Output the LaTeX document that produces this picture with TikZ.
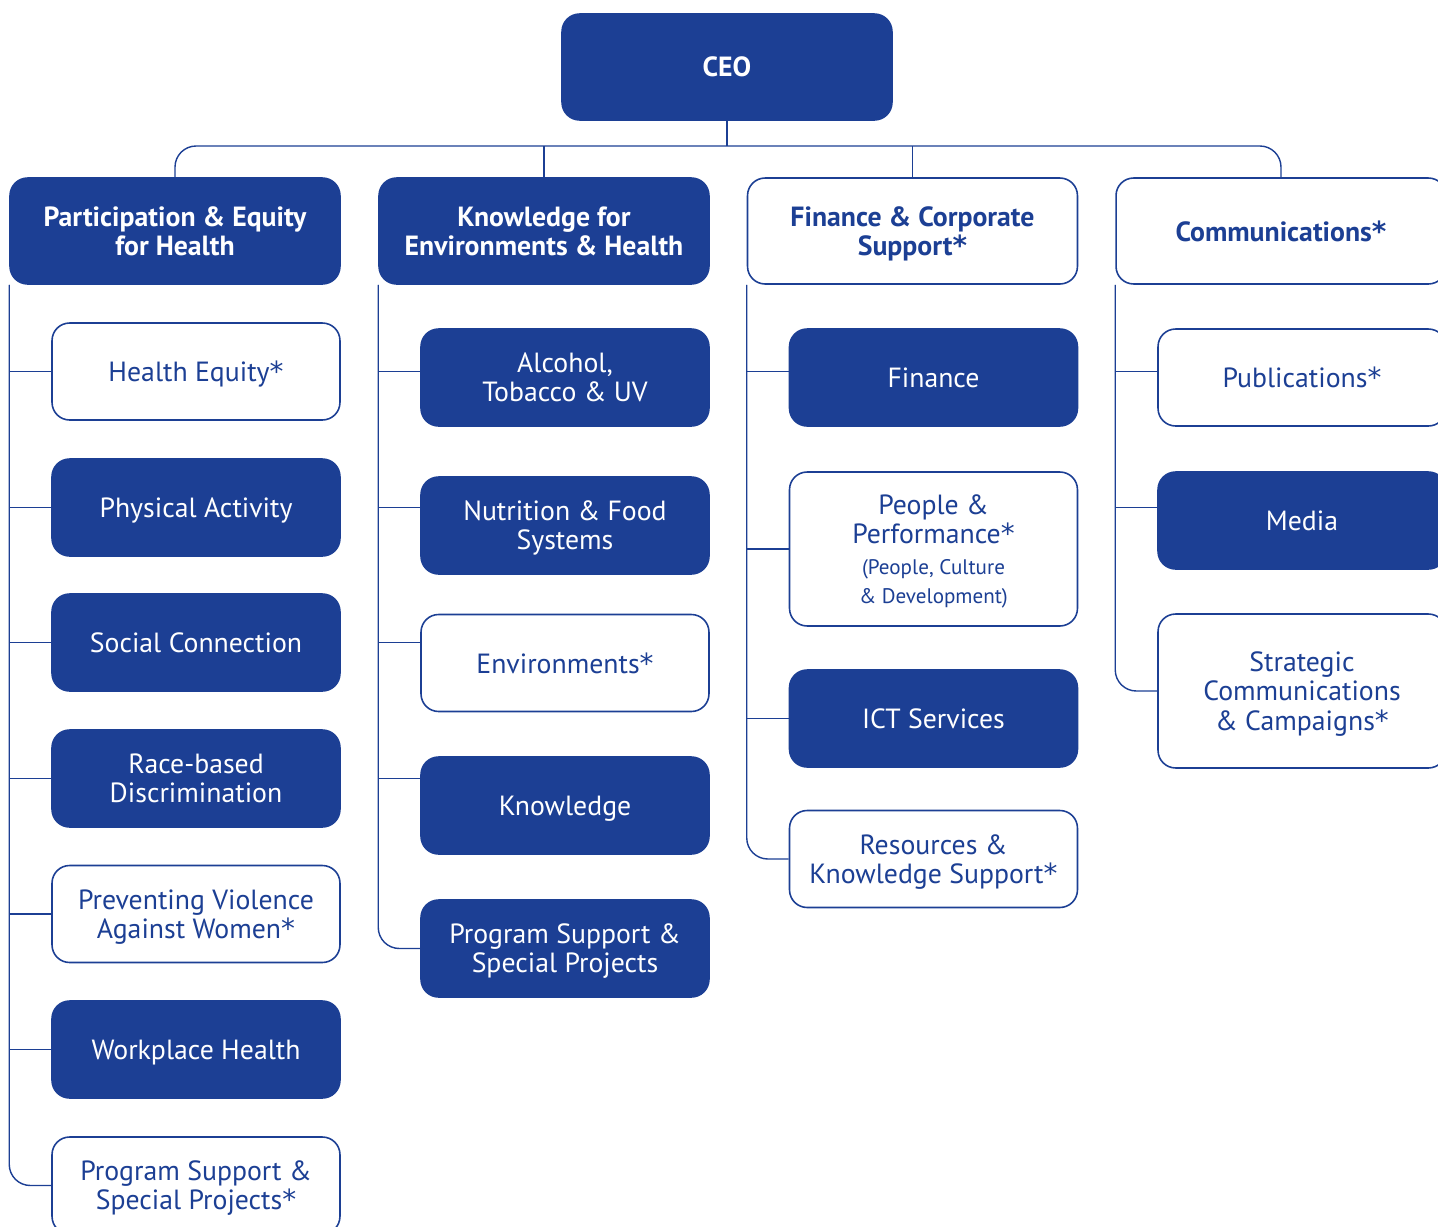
\documentclass[tikz,border=0pt]{standalone}
\usepackage{fontspec}
\setsansfont{PT Sans}
\newfontfamily\estrfont{DejaVu Sans}
\newcommand{\estr}{{\estrfont*}}
\usepackage{xcolor}
\usepackage{tikz}
\usetikzlibrary{positioning, calc}

\begin{document}
\begin{tikzpicture}[x=0.02cm, y=-0.02cm]
% --- CORES E ESTILOS ---
\definecolor{azul}{HTML}{1C3F94}
\tikzset{
  caixa/.style={rectangle, rounded corners=10pt, draw=azul, line width=0.9pt,
    minimum width=5.76cm, minimum height=1.94cm, align=center, inner sep=2pt,
    text depth=0pt, font=\sffamily\fontsize{15.8}{16.6}\selectfont},
  escura/.style={caixa, fill=azul, text=white},
  clara/.style={caixa, fill=white, text=azul},
  chefe/.style={minimum width=6.6cm, minimum height=2.12cm,
    font=\sffamily\bfseries\fontsize{15.8}{16.6}\selectfont},
  ligacao/.style={draw=azul, line width=0.8pt},
}
\newcommand{\menor}{\fontsize{12}{14}\selectfont}
\useasboundingbox (0,0) rectangle (1438,1227);

% LAYER 1: CEO e direcoes
\node[escura, chefe] (ceo) at (727,67) {CEO};
\node[escura, chefe] (pe) at (175,231) {Participation \& Equity\\for Health};
\node[escura, chefe] (ke) at (544,231) {Knowledge for\\Environments \& Health};
\node[clara, chefe] (fc) at (912.5,231) {Finance \& Corporate\\Support\estr};
\node[clara, chefe] (cm) at (1281,231) {Communications\estr};

% LAYER 2: Unidades de cada direcao
\node[clara] (he) at (196,371.5) {Health Equity\estr};
\node[escura] (pa) at (196,507.5) {Physical Activity};
\node[escura] (sc) at (196,642.5) {Social Connection};
\node[escura] (rb) at (196,778.5) {Race-based\\Discrimination};
\node[clara] (pv) at (196,914) {Preventing Violence\\Against Women\estr};
\node[escura] (wh) at (196,1049.5) {Workplace Health};
\node[clara] (psa) at (196,1185.5) {Program Support \&\\Special Projects\estr};

\node[escura] (al) at (565,377.5) {Alcohol,\\Tobacco \& UV};
\node[escura] (nf) at (565,525.5) {Nutrition \& Food\\Systems};
\node[clara] (en) at (565,663) {Environments\estr};
\node[escura] (kn) at (565,805.5) {Knowledge};
\node[escura] (psb) at (565,948.5) {Program Support \&\\Special Projects};

\node[escura] (fi) at (933.5,377.5) {Finance};
\node[clara, minimum height=3.08cm] (pp) at (933.5,549) {People \&\\Performance\estr\\[1pt]
  {\menor (People, Culture}\\{\menor \& Development)}};
\node[escura] (ict) at (933.5,718.5) {ICT Services};
\node[clara] (rk) at (933.5,859) {Resources \&\\Knowledge Support\estr};

\node[clara] (pu) at (1302,377.5) {Publications\estr};
\node[escura] (me) at (1302,520.5) {Media};
\node[clara, minimum height=3.08cm] (stc) at (1302,691) {Strategic\\Communications\\\& Campaigns\estr};

% LAYER 3: Ligacoes
\coordinate (barra) at (727,146);
\draw[ligacao] (ceo.south) -- (barra);
\draw[ligacao, rounded corners=12pt] (pe.north) |- (barra) -| (cm.north);
\draw[ligacao] (ke.north) -- (ke.north |- barra);
\draw[ligacao] (fc.north) -- (fc.north |- barra);

\foreach \u in {he, pa, sc, rb, pv, wh}
  \draw[ligacao] (pe.south west) |- (\u.west);
\draw[ligacao, rounded corners=12pt] (pe.south west) |- (psa.west);

\draw[ligacao] (ke.south west) |- (al.west |- he.west);
\draw[ligacao] (ke.south west) |- (nf.west |- pa.west);
\draw[ligacao] (ke.south west) |- (en.west |- sc.west);
\draw[ligacao] (ke.south west) |- (kn.west |- rb.west);
\draw[ligacao, rounded corners=12pt] (ke.south west) |- (psb.west);

\draw[ligacao] (fc.south west) |- (fi.west |- he.west);
\draw[ligacao] (fc.south west) |- (pp.west);
\draw[ligacao] (fc.south west) |- (ict.west);
\draw[ligacao, rounded corners=12pt] (fc.south west) |- (rk.west);

\draw[ligacao] (cm.south west) |- (pu.west |- he.west);
\draw[ligacao] (cm.south west) |- (me.west |- pa.west);
\draw[ligacao, rounded corners=12pt] (cm.south west) |- (stc.west);
\end{tikzpicture}
\end{document}
